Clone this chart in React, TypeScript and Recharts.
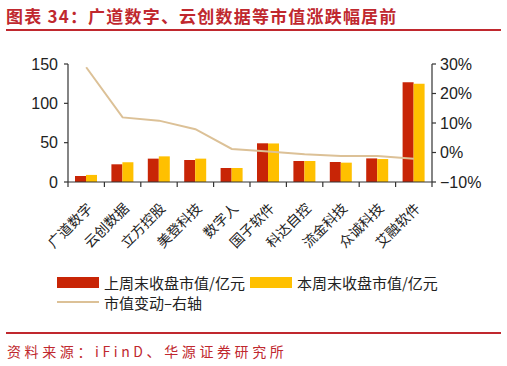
import React from 'react';
import { ComposedChart, Bar, Line, XAxis, YAxis } from 'recharts';

const categories = ['广道数字', '云创数据', '立方控股', '美登科技', '数字人', '国子软件', '科达自控', '流金科技', '众诚科技', '艾融软件'];
const lastWeekCap = [7.6, 22.5, 29.7, 28, 17.8, 49.2, 26.7, 25.4, 30, 126.7];
const thisWeekCap = [9, 25, 32.6, 29.7, 17.8, 49, 26.7, 24.6, 29.2, 125];
const capChange = [28.9, 11.9, 10.8, 7.9, 1.2, 0.3, -0.6, -1.2, -1.2, -2.1];
const leftTicks = [0, 50, 100, 150];
const rightTicks = [-10, 0, 10, 20, 30];

const RED = '#C82506';
const YELLOW = '#FFC000';
const TAN = '#DCC197';
const TITLE_RED = '#C0282E';
const NUM_FONT = '"Liberation Sans", Arial, sans-serif';
const CJK_FONT = '"Noto Sans CJK SC", sans-serif';

const data = categories.map((name, i) => ({
  name,
  last: lastWeekCap[i],
  cur: thisWeekCap[i],
  change: capChange[i],
}));

function CategoryTick(props: any) {
  const { x, y, payload, index } = props;
  const half = payload && payload.offset ? payload.offset : 18.2;
  const ax = x + 3;
  const ay = y + 23;
  return (
    <g>
      <line x1={x - half} y1={y} x2={x - half} y2={y + 5} stroke="#333" strokeWidth={1.2} />
      {index === categories.length - 1 && (
        <line x1={x + half} y1={y} x2={x + half} y2={y + 5} stroke="#333" strokeWidth={1.2} />
      )}
      <text
        x={ax}
        y={ay}
        transform={`rotate(-45, ${ax}, ${ay})`}
        textAnchor="end"
        dominantBaseline="central"
        fontSize={14}
        fontFamily={CJK_FONT}
        fill="#222"
      >
        {payload.value}
      </text>
    </g>
  );
}

const pct = (v: number) => (v < 0 ? `−${Math.abs(v)}%` : `${v}%`);

export default function App() {
  return (
    <div style={{ position: 'absolute', left: 0, top: 0, width: 507, height: 366, background: '#fff', overflow: 'hidden' }}>
      <div
        style={{
          position: 'absolute', left: 6, top: 3, fontFamily: CJK_FONT, fontWeight: 700,
          fontSize: 17, color: TITLE_RED, letterSpacing: 1.2, whiteSpace: 'nowrap',
        }}
      >
        图表 34：广道数字、云创数据等市值涨跌幅居前
      </div>
      <div style={{ position: 'absolute', left: 6, top: 29, width: 495, height: 2, background: TITLE_RED }} />

      <div style={{ position: 'absolute', left: 0, top: 0 }}>
        <ComposedChart
          width={507}
          height={270}
          data={data}
          margin={{ top: 64, right: 15, bottom: 18, left: 23 }}
          barGap={0}
        >
          <XAxis
            dataKey="name"
            height={70}
            interval={0}
            tickLine={false}
            tickSize={0}
            tickMargin={0}
            axisLine={{ stroke: '#333', strokeWidth: 1.2 }}
            tick={<CategoryTick />}
          />
          <YAxis
            yAxisId="left"
            width={45}
            domain={[0, 150]}
            ticks={leftTicks}
            tickSize={4}
            tickMargin={6}
            axisLine={{ stroke: '#333', strokeWidth: 1.2 }}
            tickLine={{ stroke: '#333', strokeWidth: 1.2 }}
            tick={{ fontSize: 16, fill: '#222', fontFamily: NUM_FONT }}
          />
          <YAxis
            yAxisId="right"
            orientation="right"
            width={60}
            domain={[-10, 30]}
            ticks={rightTicks}
            tickFormatter={pct}
            tickSize={4}
            tickMargin={4}
            axisLine={{ stroke: '#333', strokeWidth: 1.2 }}
            tickLine={{ stroke: '#333', strokeWidth: 1.2 }}
            tick={{ fontSize: 16, fill: '#222', fontFamily: NUM_FONT }}
          />
          <Bar yAxisId="left" dataKey="last" fill={RED} barSize={11} isAnimationActive={false} />
          <Bar yAxisId="left" dataKey="cur" fill={YELLOW} barSize={11} isAnimationActive={false} />
          <Line
            yAxisId="right"
            dataKey="change"
            stroke={TAN}
            strokeWidth={2}
            dot={false}
            type="linear"
            isAnimationActive={false}
          />
        </ComposedChart>
      </div>

      <div style={{ position: 'absolute', left: 57, top: 272, fontFamily: CJK_FONT, fontSize: 15, color: '#222' }}>
        <div style={{ display: 'flex', alignItems: 'center', height: 20 }}>
          <span style={{ display: 'inline-block', width: 42, height: 11, background: RED, marginRight: 5 }} />
          <span>上周末收盘市值/亿元</span>
          <span style={{ display: 'inline-block', width: 42, height: 11, background: YELLOW, marginLeft: 5, marginRight: 5 }} />
          <span>本周末收盘市值/亿元</span>
        </div>
        <div style={{ display: 'flex', alignItems: 'center', height: 20 }}>
          <span style={{ display: 'inline-block', width: 42, height: 2, background: TAN, marginRight: 5 }} />
          <span>市值变动–右轴</span>
        </div>
      </div>

      <div style={{ position: 'absolute', left: 6, top: 332, width: 495, height: 2, background: TITLE_RED }} />
      <div
        style={{
          position: 'absolute', left: 7, top: 341, fontFamily: CJK_FONT, fontSize: 14,
          color: TITLE_RED, letterSpacing: 3.6, whiteSpace: 'nowrap',
        }}
      >
        资料来源：iFinD、华源证券研究所
      </div>
    </div>
  );
}
